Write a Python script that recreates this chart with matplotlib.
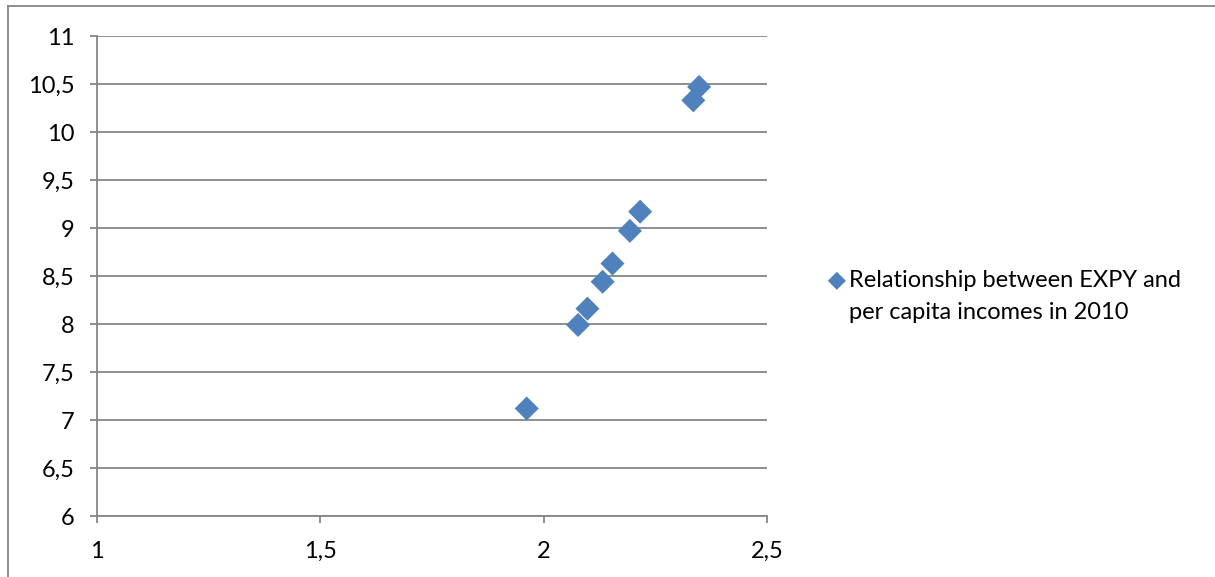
import numpy as np
import matplotlib
matplotlib.use('Agg')
import matplotlib.pyplot as plt
from matplotlib.lines import Line2D
from matplotlib.ticker import FuncFormatter, MultipleLocator

# EXPY (x) against log per capita income (y), 2010
expy = [1.962, 2.077, 2.098, 2.132, 2.154, 2.193, 2.216, 2.335, 2.348]
income = [7.12, 7.99, 8.16, 8.44, 8.63, 8.97, 9.17, 10.33, 10.47]
series_label = 'Relationship between EXPY and\nper capita incomes in 2010'

MARKER_COLOR = '#4F81BD'
GRID_COLOR = '#868686'
W, H = 1215, 577

plt.rcParams['font.family'] = ['Lato', 'DejaVu Sans']

fig = plt.figure(figsize=(W / 100, H / 100), dpi=100)
ax = fig.add_axes([97 / W, 1 - 516 / H, (767 - 97) / W, (516 - 36) / H])

pts = ax.scatter(expy, income, marker='D', s=150, color=MARKER_COLOR,
                 edgecolor='none', zorder=3, label=series_label)

ax.set_xlim(1, 2.5)
ax.set_ylim(6, 11)
ax.xaxis.set_major_locator(MultipleLocator(0.5))
ax.yaxis.set_major_locator(MultipleLocator(0.5))
comma = FuncFormatter(lambda v, _: f'{v:g}'.replace('.', ','))
ax.xaxis.set_major_formatter(comma)
ax.yaxis.set_major_formatter(comma)

ax.grid(axis='y', color=GRID_COLOR, linewidth=1.3)
ax.set_axisbelow(True)
for side in ('top', 'right'):
    ax.spines[side].set_visible(False)
for side in ('left', 'bottom'):
    ax.spines[side].set_color(GRID_COLOR)
    ax.spines[side].set_linewidth(1.3)
ax.tick_params(axis='both', direction='out', length=5, width=1.3,
               color=GRID_COLOR, labelsize=17, labelcolor='black')
ax.tick_params(axis='y', pad=11)
ax.tick_params(axis='x', pad=13)

# legend: marker sits beside the first line of the wrapped label
label_lines = series_label.split('\n')
blank = Line2D([], [], linestyle='none', marker='none')
leg = fig.legend([pts, blank], label_lines, loc='upper left',
                 bbox_to_anchor=(828 / W, 1 - 270 / H),
                 frameon=False, fontsize=17, handlelength=0.75,
                 handletextpad=0.15, markerscale=0.75, borderaxespad=0,
                 borderpad=0, labelspacing=0.45)

# chart area border (left and top edges)
fig.add_artist(Line2D([8 / W, 8 / W], [0, 1 - 6 / H], color=GRID_COLOR,
                      linewidth=1.3, transform=fig.transFigure))
fig.add_artist(Line2D([8 / W, 1], [1 - 6 / H, 1 - 6 / H], color=GRID_COLOR,
                      linewidth=1.3, transform=fig.transFigure))

fig.savefig('out.png', dpi=100)
